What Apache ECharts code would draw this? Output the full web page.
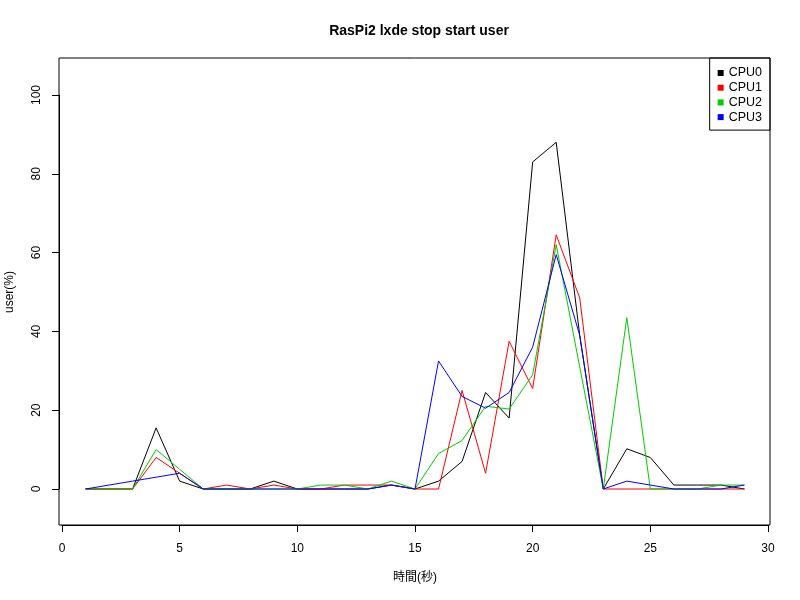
<!DOCTYPE html>
<html>
<head>
<meta charset="utf-8">
<script src="https://cdn.jsdelivr.net/npm/echarts@6/dist/echarts.min.js"></script>
<style>html,body{margin:0;padding:0;background:#fff}#c{width:800px;height:600px}</style>
</head>
<body>
<div id="c"></div>
<script>
const seconds = [1,2,3,4,5,6,7,8,9,10,11,12,13,14,15,16,17,18,19,20,21,22,23,24,25,26,27,28,29];
const cpu0 = [0,0,0,15.5,2,0,0,0,2,0,0,0,0,1,0,2,7,24.5,18,83,88,39,0,10.2,8,1,1,1,0];
const cpu1 = [0,0,0,8,4,0,1,0,1,0,0,1,1,1,0,0,25,4,37.5,25.5,64.5,48.5,0,0,0,0,0,0,0];
const cpu2 = [0,0,0,10,5,0,0,0,0,0,1,1,0,2,0,9,12.3,21,20.3,29,62,31,0,43.5,0,0,0,1,1];
const cpu3 = [0,1,2,3,4,0,0,0,0,0,0,0,0,1,0,32.5,23.5,20.5,24.5,36,59.5,39,0,2,1,0,0,0,1];
const seriesNames = ['CPU0','CPU1','CPU2','CPU3'];
const seriesColors = ['#000000','#FF0000','#00CD00','#0000FF'];
const xTicks = [0,5,10,15,20,25,30];
const yTicks = [0,20,40,60,80,100];

const font = "'Liberation Sans', 'Noto Sans CJK JP', sans-serif";
const all = [cpu0, cpu1, cpu2, cpu3];
const chart = echarts.init(document.getElementById('c'), null, {renderer:'canvas'});
chart.setOption({
  animation: false,
  backgroundColor: '#fff',
  textStyle: {fontFamily: font},
  title: {
    text: 'RasPi2 lxde stop start user',
    left: 414, top: 19, textAlign: 'center',
    textStyle: {fontFamily: font, fontSize: 14, fontWeight: 'bold', color: '#000'}
  },
  legend: {
    orient: 'vertical', right: 30, top: 58,
    padding: [8, 8, 6, 8],
    borderColor: '#000', borderWidth: 1,
    itemWidth: 6, itemHeight: 6, itemGap: 0.7,
    icon: 'rect',
    textStyle: {fontFamily: font, fontSize: 12.5, color: '#000', lineHeight: 14},
    data: seriesNames
  },
  grid: [
    {left: 59, right: 30, top: 58, bottom: 75, show: true, borderColor: '#000', borderWidth: 1,
     backgroundColor: 'transparent', containLabel: false, outerBoundsMode: 'none'},
    {left: 62, right: 32, top: 95, bottom: 111, containLabel: false, outerBoundsMode: 'none'}
  ],
  xAxis: [
    {gridIndex: 0, type: 'value', min: 0, max: 1, show: false},
    {gridIndex: 1, type: 'value', min: xTicks[0], max: xTicks[xTicks.length-1], interval: 5,
     position: 'bottom', offset: 36,
     axisLine: {show: true, onZero: false, lineStyle: {color: '#000', width: 1}},
     axisTick: {show: true, length: 7, lineStyle: {color: '#000'}},
     axisLabel: {margin: 18, fontSize: 12, color: '#000', fontFamily: font},
     splitLine: {show: false},
     name: '時間(秒)', nameLocation: 'middle', nameGap: 47,
     nameTextStyle: {fontSize: 12, color: '#000', fontFamily: font}}
  ],
  yAxis: [
    {gridIndex: 0, type: 'value', min: 0, max: 1, show: false},
    {gridIndex: 1, type: 'value', min: yTicks[0], max: yTicks[yTicks.length-1], interval: 20,
     position: 'left', offset: 3,
     axisLine: {show: true, onZero: false, lineStyle: {color: '#000', width: 1}},
     axisTick: {show: true, length: 7, lineStyle: {color: '#000'}},
     axisLabel: {margin: 16, fontSize: 12, color: '#000', rotate: 90, fontFamily: font},
     splitLine: {show: false},
     name: 'user(%)', nameLocation: 'middle', nameGap: 43, nameRotate: 90,
     nameTextStyle: {fontSize: 12, color: '#000', fontFamily: font}}
  ],
  series: all.map((arr, i) => ({
    name: seriesNames[i], type: 'line', xAxisIndex: 1, yAxisIndex: 1,
    showSymbol: false, symbol: 'rect', symbolSize: 6,
    color: seriesColors[i],
    lineStyle: {width: 1, color: seriesColors[i]},
    itemStyle: {color: seriesColors[i]},
    clip: false,
    data: seconds.map((s, k) => [s, arr[k]])
  }))
});
</script>
</body>
</html>
